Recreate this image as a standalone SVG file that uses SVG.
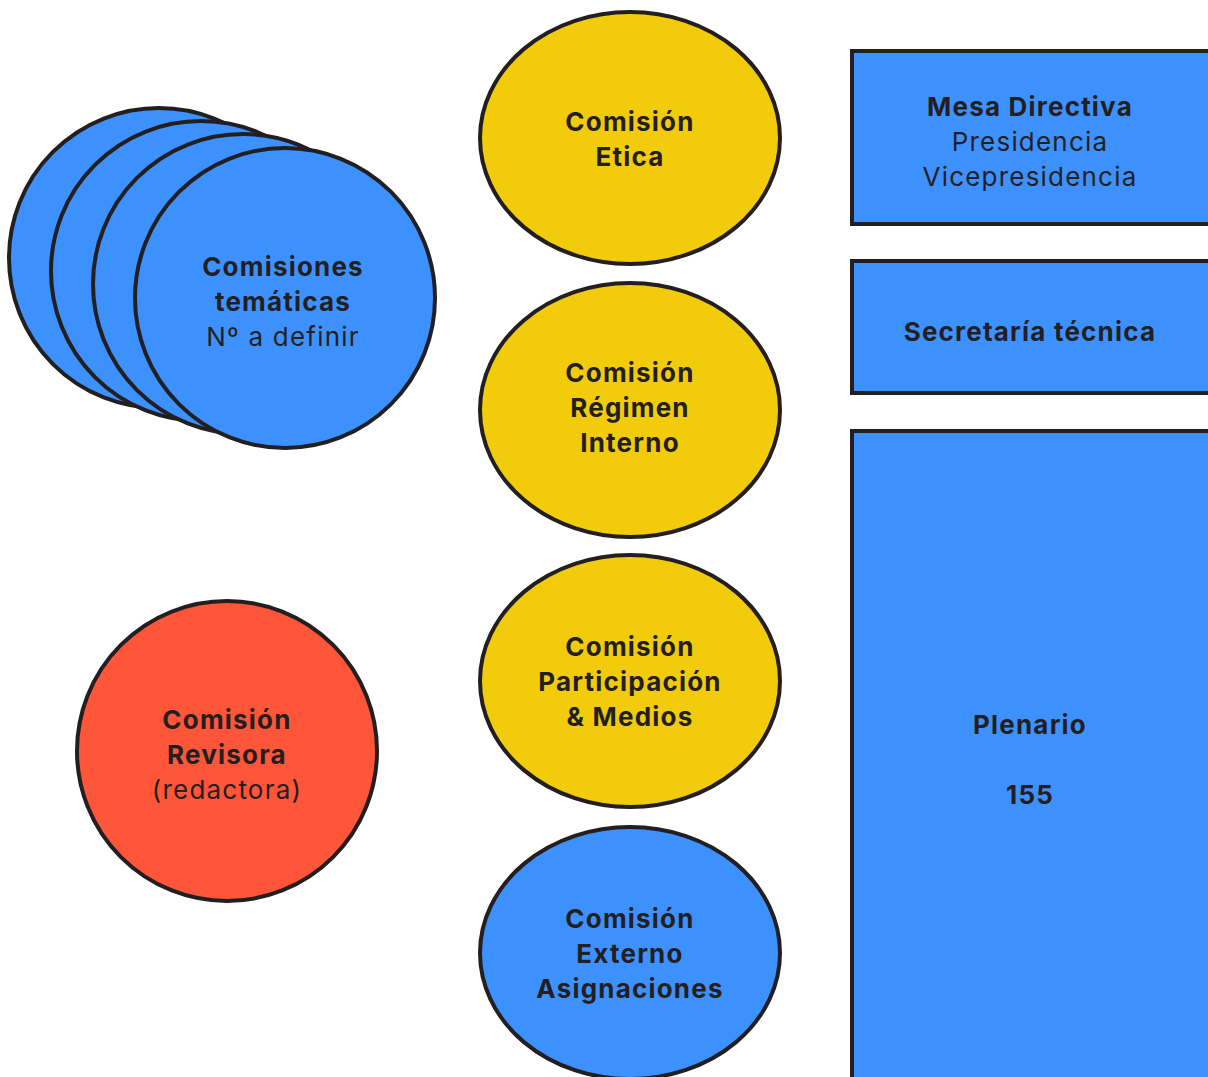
<svg xmlns="http://www.w3.org/2000/svg" width="1208" height="1077" viewBox="0 0 1208 1077">
<style>
.s{stroke:#231f20;stroke-width:4}
.b{fill:#3d91ff}
.y{fill:#f2cb0a}
.r{fill:#ff5538}
text{font-family:Inter,"Noto Sans","Liberation Sans",sans-serif;font-size:26px;fill:#231f20;text-anchor:middle;letter-spacing:1.2px}
.bo{font-weight:700}
</style>
<rect width="1208" height="1077" fill="#fff"/>
<g id="connectors"></g>
<g id="comisiones-tematicas">
<circle class="s b" cx="159" cy="258" r="150"/>
<circle class="s b" cx="201" cy="271" r="150"/>
<circle class="s b" cx="243" cy="284" r="150"/>
<circle class="s b" cx="285" cy="298" r="150"/>
<text class="bo" x="283" y="276">Comisiones</text>
<text class="bo" x="283" y="311">temáticas</text>
<text x="283" y="346">Nº a definir</text>
</g>
<g id="comision-etica">
<ellipse class="s y" cx="630" cy="138" rx="150" ry="126"/>
<text class="bo" x="630" y="131">Comisión</text>
<text class="bo" x="630" y="166">Etica</text>
</g>
<g id="comision-regimen">
<ellipse class="s y" cx="630" cy="410" rx="150" ry="127"/>
<text class="bo" x="630" y="382">Comisión</text>
<text class="bo" x="630" y="417">Régimen</text>
<text class="bo" x="630" y="452">Interno</text>
</g>
<g id="comision-participacion">
<ellipse class="s y" cx="630" cy="681" rx="150" ry="126"/>
<text class="bo" x="630" y="656">Comisión</text>
<text class="bo" x="630" y="691">Participación</text>
<text class="bo" x="630" y="726">&amp; Medios</text>
</g>
<g id="comision-externo">
<ellipse class="s b" cx="630" cy="953" rx="150" ry="126"/>
<text class="bo" x="630" y="928">Comisión</text>
<text class="bo" x="630" y="963">Externo</text>
<text class="bo" x="630" y="998">Asignaciones</text>
</g>
<g id="comision-revisora">
<circle class="s r" cx="227" cy="751" r="150"/>
<text class="bo" x="227" y="729">Comisión</text>
<text class="bo" x="227" y="764">Revisora</text>
<text x="227" y="799">(redactora)</text>
</g>
<g id="mesa-directiva">
<rect class="s b" x="852" y="51" width="362" height="173"/>
<text class="bo" x="1030" y="116">Mesa Directiva</text>
<text x="1030" y="151">Presidencia</text>
<text x="1030" y="186">Vicepresidencia</text>
</g>
<g id="secretaria">
<rect class="s b" x="852" y="261" width="362" height="132"/>
<text class="bo" x="1030" y="341">Secretaría técnica</text>
</g>
<g id="plenario">
<rect class="s b" x="852" y="431" width="362" height="660"/>
<text class="bo" x="1030" y="734">Plenario</text>
<text class="bo" x="1030" y="804">155</text>
</g>
</svg>
